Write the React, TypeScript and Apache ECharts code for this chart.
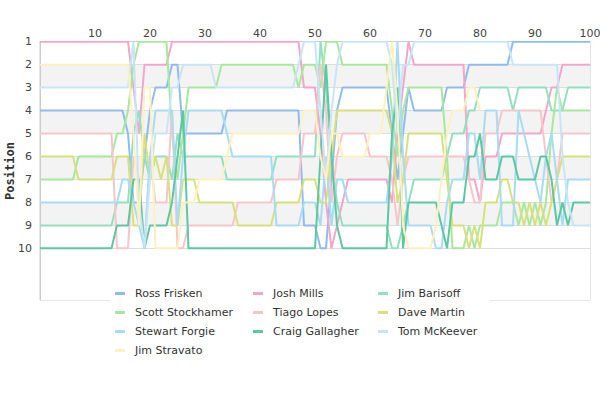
import React, { useEffect, useRef } from "react";
import * as echarts from "echarts";

const laps = Array.from({ length: 101 }, (_, i) => i);

const drivers = [
  "Ross Frisken",
  "Josh Mills",
  "Jim Barisoff",
  "Scott Stockhamer",
  "Tiago Lopes",
  "Dave Martin",
  "Stewart Forgie",
  "Craig Gallagher",
  "Tom McKeever",
  "Jim Stravato",
];

const colors = [
  "#91bbee",
  "#f3a6cb",
  "#92e0c1",
  "#a7e89d",
  "#f6c6cb",
  "#d8e07d",
  "#a9dbf1",
  "#5cc8a2",
  "#c8e5f7",
  "#fcf1bf",
];

const rossFrisken = [
  4, 4, 4, 4, 4, 4, 4, 4, 4, 4,
  4, 4, 4, 4, 4, 4, 5, 8, 8, 6,
  4, 3, 3, 3, 2, 2, 5, 5, 5, 5,
  5, 5, 5, 5, 4, 4, 4, 4, 4, 4,
  4, 4, 4, 4, 4, 4, 4, 4, 9, 9,
  9, 10, 10, 7, 4, 3, 3, 3, 3, 3,
  3, 3, 3, 3, 5, 7, 5, 3, 4, 4,
  4, 4, 4, 4, 3, 3, 3, 3, 2, 2,
  2, 2, 2, 2, 2, 2, 1, 1, 1, 1,
  1, 1, 1, 1, 1, 1, 1, 1, 1, 1, 1,
];

const joshMills = [
  1, 1, 1, 1, 1, 1, 1, 1, 1, 1,
  1, 1, 1, 1, 1, 1, 1, 3, 5, 2,
  2, 2, 2, 2, 1, 1, 1, 1, 1, 1,
  1, 1, 1, 1, 1, 1, 1, 1, 1, 1,
  1, 1, 1, 1, 1, 1, 1, 1, 3, 3,
  3, 5, 8, 10, 9, 8, 7, 7, 7, 7,
  7, 7, 7, 7, 8, 5, 3, 1, 2, 2,
  2, 2, 2, 2, 2, 2, 2, 2, 7, 7,
  8, 6, 6, 6, 5, 5, 5, 5, 5, 5,
  5, 5, 4, 3, 3, 2, 2, 2, 2, 2, 2,
];

const jimBarisoff = [
  9, 9, 9, 9, 9, 9, 9, 9, 9, 9,
  9, 9, 9, 9, 8, 8, 8, 5, 4, 6,
  7, 6, 6, 6, 7, 5, 6, 6, 6, 6,
  6, 6, 6, 6, 7, 7, 7, 7, 7, 7,
  7, 7, 7, 6, 6, 6, 6, 6, 6, 6,
  6, 1, 3, 6, 8, 9, 9, 9, 9, 9,
  9, 9, 9, 9, 10, 10, 9, 8, 7, 7,
  7, 7, 7, 7, 6, 5, 5, 5, 4, 4,
  3, 3, 3, 3, 3, 3, 4, 3, 3, 3,
  3, 3, 3, 4, 4, 4, 3, 3, 3, 3, 3,
];

const scottStockhamer = [
  7, 7, 7, 7, 7, 7, 7, 6, 6, 6,
  6, 6, 6, 6, 5, 5, 4, 2, 1, 1,
  1, 1, 1, 1, 5, 7, 5, 3, 3, 3,
  3, 3, 3, 2, 2, 2, 2, 2, 2, 2,
  2, 2, 2, 2, 2, 2, 2, 3, 2, 2,
  2, 3, 1, 1, 1, 2, 2, 2, 2, 2,
  2, 2, 2, 2, 4, 6, 4, 3, 3, 3,
  3, 3, 3, 3, 6, 10, 10, 10, 9, 10,
  9, 9, 9, 9, 8, 8, 8, 9, 8, 9,
  8, 9, 8, 5, 3, 4, 4, 4, 4, 4, 4,
];

const tiagoLopes = [
  5, 5, 5, 5, 5, 5, 5, 5, 5, 5,
  5, 5, 5, 5, 10, 10, 10, 6, 7, 10,
  6, 8, 8, 8, 4, 10, 10, 9, 9, 9,
  9, 9, 9, 9, 9, 9, 8, 8, 8, 8,
  8, 8, 8, 7, 7, 7, 7, 7, 5, 5,
  5, 2, 4, 8, 6, 5, 5, 5, 5, 5,
  6, 6, 6, 6, 7, 9, 7, 6, 6, 6,
  6, 6, 6, 6, 6, 6, 6, 6, 7, 8,
  8, 5, 5, 5, 4, 4, 4, 4, 4, 4,
  4, 4, 6, 8, 7, 5, 5, 5, 5, 5, 5,
];

const daveMartin = [
  6, 6, 6, 6, 6, 6, 6, 7, 7, 7,
  7, 7, 7, 7, 6, 6, 6, 9, 9, 5,
  7, 6, 7, 6, 9, 9, 7, 7, 7, 8,
  8, 8, 8, 8, 8, 8, 9, 9, 9, 9,
  9, 9, 9, 8, 8, 8, 8, 8, 7, 7,
  7, 8, 8, 6, 4, 4, 4, 4, 4, 4,
  4, 4, 4, 4, 5, 8, 7, 5, 5, 5,
  5, 5, 5, 5, 7, 9, 9, 9, 10, 9,
  10, 8, 8, 8, 7, 7, 8, 8, 9, 8,
  9, 8, 9, 8, 7, 6, 6, 6, 6, 6, 6,
];

const stewartForgie = [
  8, 8, 8, 8, 8, 8, 8, 8, 8, 8,
  8, 8, 8, 8, 8, 7, 7, 8, 9, 10,
  6, 4, 4, 4, 4, 9, 6, 4, 4, 4,
  4, 4, 4, 4, 5, 6, 6, 6, 6, 6,
  6, 6, 6, 9, 9, 9, 9, 9, 8, 8,
  8, 9, 6, 9, 7, 7, 8, 8, 8, 8,
  8, 8, 8, 8, 6, 1, 6, 9, 9, 9,
  9, 9, 10, 10, 8, 7, 7, 7, 5, 5,
  7, 4, 4, 4, 9, 9, 9, 4, 5, 6,
  7, 8, 6, 5, 7, 9, 7, 7, 7, 7, 7,
];

const craigGallagher = [
  10, 10, 10, 10, 10, 10, 10, 10, 10, 10,
  10, 10, 10, 10, 9, 9, 9, 7, 7, 10,
  9, 9, 9, 9, 8, 6, 4, 10, 10, 10,
  10, 10, 10, 10, 10, 10, 10, 10, 10, 10,
  10, 10, 10, 10, 10, 10, 10, 10, 10, 10,
  10, 6, 2, 6, 9, 10, 10, 10, 10, 10,
  10, 10, 10, 10, 5, 3, 10, 8, 8, 8,
  8, 8, 8, 9, 10, 8, 8, 8, 6, 6,
  5, 7, 7, 7, 6, 6, 6, 7, 7, 7,
  7, 6, 6, 7, 9, 8, 9, 8, 8, 8, 8,
];

const tomMcKeever = [
  3, 3, 3, 3, 3, 3, 3, 3, 3, 3,
  3, 3, 3, 3, 3, 3, 3, 1, 8, 10,
  7, 5, 5, 5, 3, 3, 2, 2, 2, 2,
  2, 2, 3, 3, 3, 3, 3, 3, 3, 3,
  3, 3, 3, 3, 3, 3, 3, 2, 1, 1,
  1, 4, 7, 4, 2, 1, 1, 1, 1, 1,
  1, 1, 1, 1, 2, 5, 2, 2, 1, 1,
  1, 1, 1, 1, 1, 1, 1, 1, 1, 1,
  1, 1, 1, 1, 1, 1, 2, 2, 2, 2,
  2, 2, 2, 2, 2, 6, 8, 9, 9, 9, 9,
];

const jimStravato = [
  2, 2, 2, 2, 2, 2, 2, 2, 2, 2,
  2, 2, 2, 2, 2, 2, 2, 5, 9, 3,
  3, 10, 10, 10, 10, 10, 8, 8, 8, 7,
  7, 7, 7, 7, 6, 5, 5, 5, 5, 5,
  5, 5, 5, 5, 5, 5, 5, 5, 4, 4,
  4, 6, 7, 5, 5, 6, 6, 6, 6, 6,
  5, 5, 5, 3, 1, 4, 9, 10, 10, 10,
  10, 10, 9, 7, 5, 4, 4, 4, 3, 3,
  4, null, null, null, null, null, null, null, null, null,
  null, null, null, null, null, null, null, null, null, null, null,
];

const positions = [
  rossFrisken,
  joshMills,
  jimBarisoff,
  scottStockhamer,
  tiagoLopes,
  daveMartin,
  stewartForgie,
  craigGallagher,
  tomMcKeever,
  jimStravato,
];

const positionTicks = ["1", "2", "3", "4", "5", "6", "7", "8", "9", "10"];

const legendColumns = [
  ["Ross Frisken", "Scott Stockhamer", "Stewart Forgie", "Jim Stravato"],
  ["Josh Mills", "Tiago Lopes", "Craig Gallagher"],
  ["Jim Barisoff", "Dave Martin", "Tom McKeever"],
];
const legendLefts = [115, 253, 378];

export default function App() {
  const ref = useRef<HTMLDivElement>(null);

  useEffect(() => {
    if (!ref.current) return;
    const chart = echarts.init(ref.current, null, { renderer: "svg" });

    const splitLineColors = positionTicks
      .map(() => "#dddddd")
      .concat(["rgba(0,0,0,0)", "rgba(0,0,0,0)", "rgba(0,0,0,0)"]);
    const splitAreaColors = [
      "#ffffff", "#f3f3f3", "#ffffff", "#f3f3f3", "#ffffff",
      "#f3f3f3", "#ffffff", "#f3f3f3", "#ffffff", "#ffffff",
      "#ffffff", "#ffffff",
    ];

    const option: any = {
      animation: false,
      backgroundColor: "#ffffff",
      textStyle: { fontFamily: "DejaVu Sans" },
      grid: {
        show: true,
        borderColor: "#cccccc",
        borderWidth: 1,
        backgroundColor: "rgba(0,0,0,0)",
        left: 40,
        right: 10,
        top: 41.7,
        bottom: 100,
        containLabel: false,
        outerBoundsMode: "none",
      },
      xAxis: {
        type: "value",
        position: "top",
        min: 0,
        max: 100,
        interval: 10,
        axisLine: { show: true, lineStyle: { color: "#cccccc" } },
        axisTick: { show: false },
        splitLine: { show: false },
        axisLabel: {
          showMinLabel: false,
          color: "#444444",
          fontSize: 11,
          margin: 3,
          fontFamily: "DejaVu Sans",
        },
      },
      yAxis: {
        type: "value",
        inverse: true,
        min: 1,
        max: 12.25,
        interval: 1,
        axisLine: { show: true, lineStyle: { color: "#cccccc" } },
        axisTick: { show: false },
        axisLabel: {
          color: "#444444",
          fontSize: 11,
          margin: 8,
          fontFamily: "DejaVu Sans",
          formatter: (v: number) => {
            const s = String(v);
            return positionTicks.indexOf(s) >= 0 ? s : "";
          },
        },
        splitLine: { show: true, lineStyle: { color: splitLineColors, width: 1 } },
        splitArea: { show: true, areaStyle: { color: splitAreaColors } },
      },
      legend: legendColumns.map((col, i) => ({
        data: col,
        orient: "vertical",
        left: legendLefts[i],
        top: 287,
        padding: 0,
        itemGap: 6,
        itemWidth: 10,
        itemHeight: 3,
        icon: "rect",
        z: 5,
        textStyle: {
          fontSize: 11,
          color: "#333333",
          fontFamily: "DejaVu Sans",
          padding: [0, 0, 0, 5],
          lineHeight: 13,
        },
        itemStyle: { borderWidth: 0 },
      })),
      graphic: [
        {
          type: "rect",
          z: 3,
          shape: { x: 110, y: 285, width: 380, height: 74 },
          style: { fill: "#ffffff" },
        },
        {
          type: "text",
          z: 5,
          x: 10,
          y: 171,
          rotation: Math.PI / 2,
          style: {
            text: "Position",
            fill: "#333333",
            font: "bold 12px 'DejaVu Sans Mono'",
            align: "center",
            verticalAlign: "middle",
          },
        },
      ],
      series: drivers.map((name, i) => ({
        name,
        type: "line",
        symbol: "none",
        showSymbol: false,
        connectNulls: false,
        color: colors[i],
        lineStyle: { width: 2, color: colors[i] },
        emphasis: { disabled: true },
        data: laps.map((lap, j) => [lap, positions[i][j]]),
      })),
    };

    chart.setOption(option);
    return () => chart.dispose();
  }, []);

  return (
    <div
      ref={ref}
      style={{ position: "fixed", left: 0, top: 0, width: 600, height: 400 }}
    />
  );
}
